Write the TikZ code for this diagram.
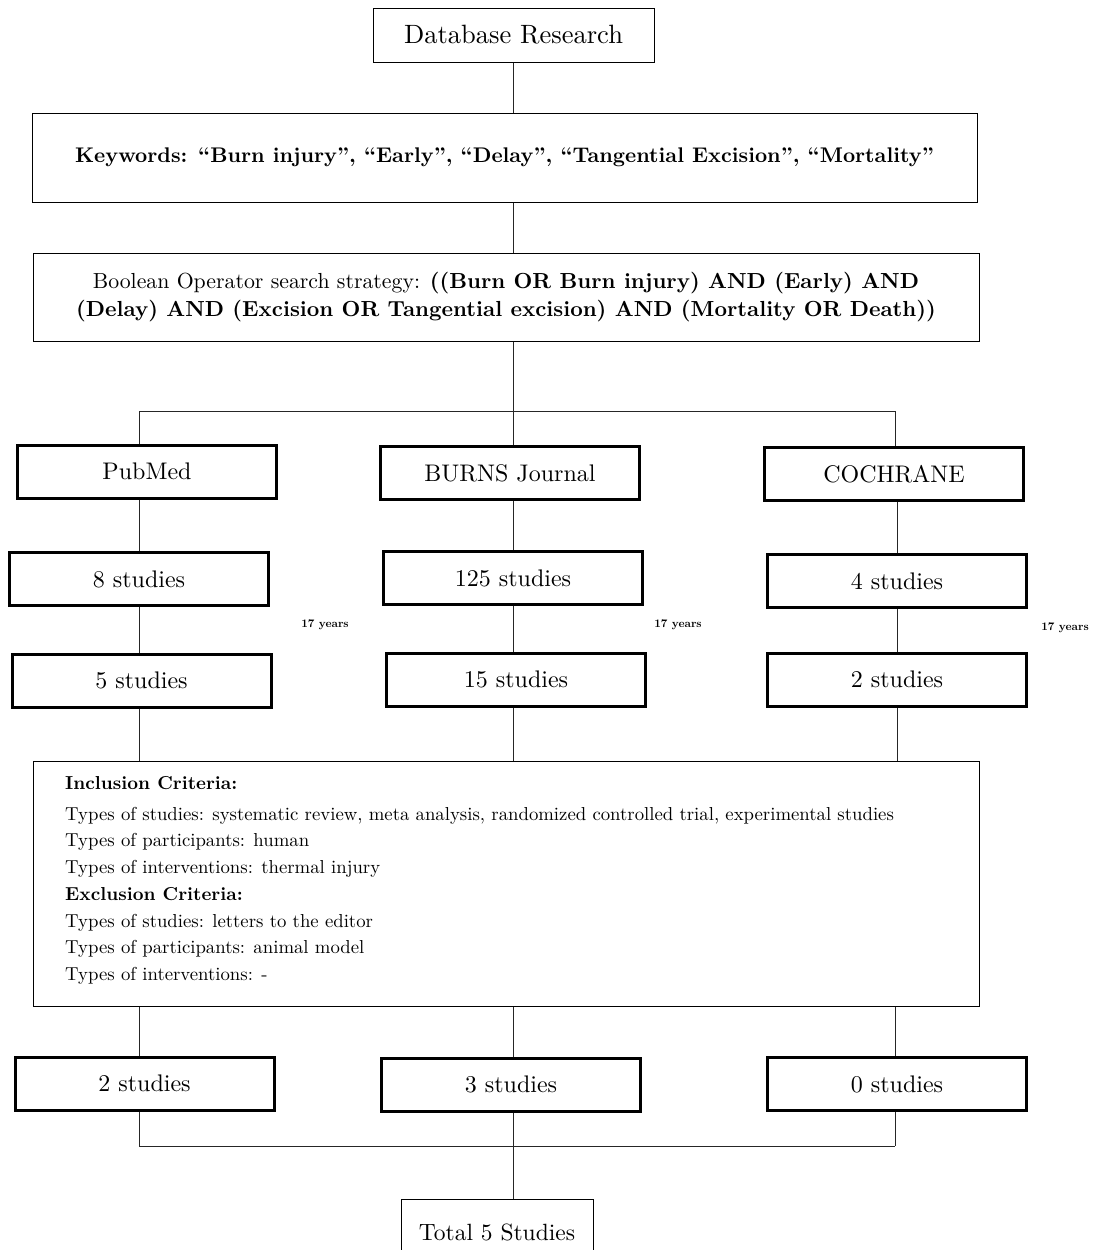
\documentclass[tikz,border=0pt]{standalone}
\usepackage{fontspec}
\setmainfont{lmroman10-regular.otf}[BoldFont=lmroman10-bold.otf]
\usepackage{tikz}

\begin{document}
\begin{tikzpicture}[x=1pt,y=-1pt,
    thinbox/.style={draw, line width=1pt, rectangle, inner sep=0pt, align=center},
    thickbox/.style={draw, line width=3pt, rectangle, inner sep=0pt, minimum width=259pt, minimum height=53pt, font=\fontsize{24}{28}\selectfont},
    link/.style={line width=1pt, black!85},
    yearlabel/.style={font=\fontsize{11.5}{13}\selectfont\bfseries}]
    \useasboundingbox (0,0) rectangle (1097,1250);

    % Column positions
    \def\colL{139}
    \def\colM{513}
    \def\colR{895}

    % Top boxes
    \node[thinbox, minimum width=281pt, minimum height=54pt, font=\fontsize{26.5}{30}\selectfont] (db) at (513.5,35) {Database Research};
    \node[thinbox, minimum width=945pt, minimum height=89pt, font=\fontsize{21.2}{24}\selectfont\bfseries] (kw) at (504.5,157.5)
        {Keywords: ``Burn injury'', ``Early'', ``Delay'', ``Tangential Excision'', ``Mortality''};
    \node[thinbox, minimum width=946pt, minimum height=88pt, font=\fontsize{21.8}{28}\selectfont] (bool) at (506,297)
        {Boolean Operator search strategy: \textbf{((Burn OR Burn injury) AND (Early) AND}\\
         \textbf{(Delay) AND (Excision OR Tangential excision) AND (Mortality OR Death))}};

    % Databases
    \node[thickbox] (pub) at (147,471.5) {PubMed};
    \node[thickbox] (burns) at (510,473) {BURNS Journal};
    \node[thickbox] (coch) at (894,474) {COCHRANE};

    % Studies found
    \node[thickbox] (s8) at (139,579) {8 studies};
    \node[thickbox] (s125) at (513,578) {125 studies};
    \node[thickbox] (s4) at (897,581) {4 studies};

    \node[yearlabel] (yL) at (325,625) {17 years};
    \node[yearlabel] (yM) at (678,625) {17 years};
    \node[yearlabel] (yR) at (1065,628) {17 years};

    % Studies in period
    \node[thickbox] (s5) at (141.5,680.5) {5 studies};
    \node[thickbox] (s15) at (516,679.5) {15 studies};
    \node[thickbox] (s2) at (897,679.5) {2 studies};

    % Criteria
    \node[thinbox, minimum width=946pt, minimum height=245pt] (crit) at (506,883.5) {};
    \node[anchor=north west, align=left, inner sep=0pt, font=\fontsize{18.75}{26.7}\selectfont] (crittext) at (65,776)
        {\textbf{Inclusion Criteria:}\\[4.3pt]
         Types of studies: systematic review, meta analysis, randomized controlled trial, experimental studies\\
         Types of participants: human\\
         Types of interventions: thermal injury\\
         \textbf{Exclusion Criteria:}\\
         Types of studies: letters to the editor\\
         Types of participants: animal model\\
         Types of interventions: -};

    % Included studies
    \node[thickbox] (r2) at (144.5,1083.5) {2 studies};
    \node[thickbox] (r3) at (511,1084.5) {3 studies};
    \node[thickbox] (r0) at (897,1084) {0 studies};

    \node[thinbox, minimum width=192pt, minimum height=70pt, font=\fontsize{23.5}{27}\selectfont, text depth=0pt] (total) at (497,1234) {\raisebox{3pt}{Total 5 Studies}};

    % Fork points
    \coordinate (forkT) at (\colM,411);
    \coordinate (forkTL) at (\colL,411);
    \coordinate (forkTR) at (\colR,411);
    \coordinate (forkB) at (\colM,1146);
    \coordinate (forkBL) at (\colL,1146);
    \coordinate (forkBR) at (\colR,1146);

    % Connectors
    \draw[link] (db.south -| forkT) -- (kw.north -| forkT);
    \draw[link] (kw.south -| forkT) -- (bool.north -| forkT);
    \draw[link] (bool.south -| forkT) -- (forkT);
    \draw[link] (forkTL) -- (forkTR);
    \draw[link] (forkTL) -- (pub.north -| forkTL);
    \draw[link] (forkT) -- (burns.north -| forkT);
    \draw[link] (forkTR) -- (coch.north -| forkTR);

    \draw[link] (pub.south -| forkTL) -- (s8.north -| forkTL);
    \draw[link] (burns.south -| forkT) -- (s125.north -| forkT);
    \draw[link] (coch.south -| s4) -- (s4.north);

    \draw[link] (s8.south -| forkTL) -- (s5.north -| forkTL);
    \draw[link] (s125.south -| forkT) -- (s15.north -| forkT);
    \draw[link] (s4.south) -- (s2.north -| s4);

    \draw[link] (s5.south -| forkTL) -- (crit.north -| forkTL);
    \draw[link] (s15.south -| forkT) -- (crit.north -| forkT);
    \draw[link] (s2.south -| s4) -- (crit.north -| s4);

    \draw[link] (crit.south -| forkBL) -- (r2.north -| forkBL);
    \draw[link] (crit.south -| forkB) -- (r3.north -| forkB);
    \draw[link] (crit.south -| forkBR) -- (r0.north -| forkBR);

    \draw[link] (r2.south -| forkBL) -- (forkBL);
    \draw[link] (r3.south -| forkB) -- (forkB);
    \draw[link] (r0.south -| forkBR) -- (forkBR);
    \draw[link] (forkBL) -- (forkBR);
    \draw[link] (forkB) -- (total.north -| forkB);
\end{tikzpicture}
\end{document}
